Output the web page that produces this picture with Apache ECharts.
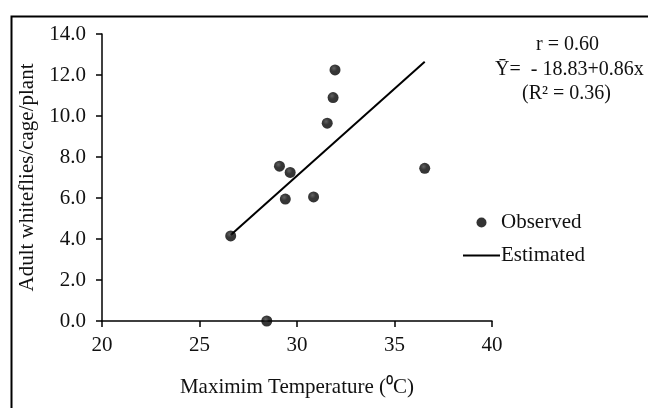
<!DOCTYPE html>
<html>
<head>
<meta charset="utf-8">
<script src="https://cdn.jsdelivr.net/npm/echarts@6/dist/echarts.min.js"></script>
<style>
  html, body { margin: 0; padding: 0; background: #fff; }
  #chart { width: 648px; height: 408px; }
</style>
</head>
<body>
<div id="chart"></div>
<script>
// observed points: max temperature (C) vs adult whiteflies/cage/plant
var tempObs = [26.6, 28.45, 29.1, 29.65, 29.4, 30.85, 31.55, 31.85, 31.95, 36.55];
var flyObs = [4.15, 0.0, 7.55, 7.25, 5.95, 6.05, 9.65, 10.9, 12.25, 7.45];
// fitted line end points as drawn
var tempEst = [26.6, 36.55];
var flyEst = [4.2, 12.65];
var xTicks = [20, 25, 30, 35, 40];
var yTicks = [0, 2, 4, 6, 8, 10, 12, 14];
var statLines = ['r = 0.60', 'Ȳ=  - 18.83+0.86x', '(R² = 0.36)'];

var font = '"Liberation Serif", "Times New Roman", serif';
var fs = 21;
var ink = '#111';

function pairs(xs, ys) {
  return xs.map(function (x, i) { return [x, ys[i]]; });
}

var chart = echarts.init(document.getElementById('chart'), null, { renderer: 'canvas' });

var dotColor = {
  type: 'radial', x: 0.4, y: 0.35, r: 0.65,
  colorStops: [
    { offset: 0, color: '#3a3a3a' },
    { offset: 0.45, color: '#050505' },
    { offset: 1, color: '#000' }
  ]
};

var option = {
  backgroundColor: '#ffffff',
  animation: false,
  textStyle: { fontFamily: font, color: ink },
  grid: { left: 102, right: 156, top: 34, bottom: 87 },
  xAxis: {
    type: 'value',
    min: xTicks[0],
    max: xTicks[xTicks.length - 1],
    interval: 5,
    name: 'Maximim Temperature (⁰C)',
    nameLocation: 'middle',
    nameGap: 56,
    nameTextStyle: { fontFamily: font, fontSize: fs, color: ink },
    axisLine: { show: true, onZero: false, lineStyle: { color: '#000', width: 1.5 } },
    axisTick: { show: true, length: 6, lineStyle: { color: '#000', width: 1.5 } },
    axisLabel: { fontFamily: font, fontSize: fs, color: ink, margin: 14 },
    splitLine: { show: false }
  },
  yAxis: {
    type: 'value',
    min: yTicks[0],
    max: yTicks[yTicks.length - 1],
    interval: 2,
    name: 'Adult whiteflies/cage/plant',
    nameLocation: 'middle',
    nameGap: 56,
    nameTextStyle: { fontFamily: font, fontSize: fs, color: ink },
    axisLine: { show: true, lineStyle: { color: '#000', width: 1.5 } },
    axisTick: { show: true, length: 6, lineStyle: { color: '#000', width: 1.5 } },
    axisLabel: {
      fontFamily: font, fontSize: fs, color: ink, margin: 16,
      formatter: function (v) { return v.toFixed(1); }
    },
    splitLine: { show: false }
  },
  legend: {
    orient: 'vertical',
    left: 458,
    top: 207,
    itemWidth: 37,
    itemHeight: 10,
    itemGap: 12,
    textStyle: { fontFamily: font, fontSize: fs, color: ink, padding: [0, 0, 0, -4] },
    data: [
      { name: 'Observed', icon: 'circle', itemStyle: { color: '#000' } },
      { name: 'Estimated', icon: 'path://M0,0 L37,0 L37,2 L0,2 Z', itemStyle: { color: '#000' } }
    ]
  },
  graphic: [
    {
      type: 'rect',
      left: 9, top: 14,
      shape: { width: 700, height: 500 },
      style: { fill: 'none', stroke: '#000', lineWidth: 2 },
      silent: true
    },
    {
      type: 'text',
      left: 536, top: 35,
      style: { text: statLines[0], font: '20px ' + font, fill: ink }
    },
    {
      type: 'text',
      left: 495, top: 60,
      style: { text: statLines[1], font: '20px ' + font, fill: ink }
    },
    {
      type: 'text',
      left: 522, top: 84,
      style: { text: statLines[2], font: '20px ' + font, fill: ink }
    }
  ],
  series: [
    {
      name: 'Observed',
      type: 'scatter',
      symbol: 'circle',
      symbolSize: 11,
      itemStyle: { color: dotColor },
      data: pairs(tempObs, flyObs),
      z: 3
    },
    {
      name: 'Estimated',
      type: 'line',
      symbol: 'none',
      lineStyle: { color: '#000', width: 2 },
      itemStyle: { color: '#000' },
      data: pairs(tempEst, flyEst),
      z: 2
    }
  ]
};

chart.setOption(option);
</script>
</body>
</html>
